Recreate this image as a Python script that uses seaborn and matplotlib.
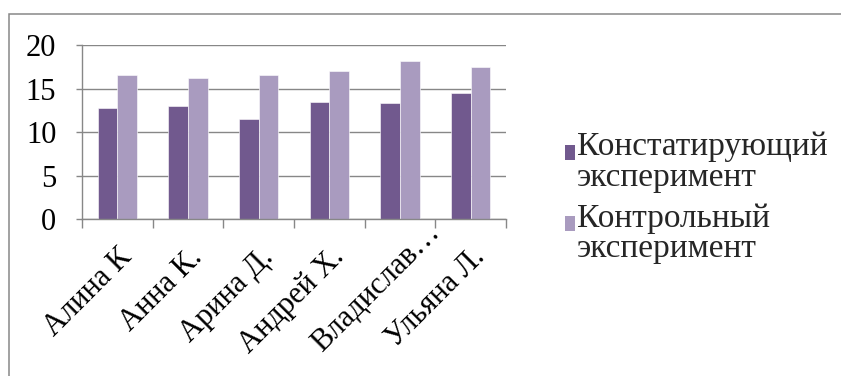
import matplotlib
matplotlib.use("Agg")
import matplotlib.pyplot as plt
from matplotlib.patches import Rectangle, Patch
from matplotlib.legend_handler import HandlerPatch
import matplotlib.transforms as mtransforms
import seaborn as sns
import pandas as pd

# Scores per pupil in the two stages of the experiment
students = ["Алина К", "Анна К.", "Арина Д.", "Андрей Х.", "Владислав…", "Ульяна Л."]
ascertaining = [12.8, 13.0, 11.5, 13.5, 13.3, 14.5]
control = [16.5, 16.2, 16.5, 17.0, 18.2, 17.5]
series_names = ["Констатирующий\nэксперимент", "Контрольный\nэксперимент"]
colors = ["#71598E", "#A99BBF"]
y_ticks = [0, 5, 10, 15, 20]

df = pd.DataFrame({
    "student": students * 2,
    "value": ascertaining + control,
    "series": [series_names[0]] * len(students) + [series_names[1]] * len(students),
})

sns.set_theme(style="white")
plt.rcParams["font.family"] = ["Liberation Serif", "DejaVu Serif"]

grey = "#878787"
fig = plt.figure(figsize=(8.41, 3.76), dpi=100)
ax = fig.add_axes([82 / 841, 1 - 219 / 376, 424 / 841, 174 / 376])

sns.barplot(data=df, x="student", y="value", hue="series", order=students,
            hue_order=series_names, palette=colors, width=0.556, gap=0,
            saturation=1, edgecolor="white", linewidth=0.4, legend=False, ax=ax)

ax.set_xlim(-0.5, len(students) - 0.5)
ax.set_ylim(0, 20)
ax.set_yticks(y_ticks)
ax.set_xlabel("")
ax.set_ylabel("")

# Horizontal gridlines behind the bars
ax.set_axisbelow(True)
ax.yaxis.grid(True, color=grey, linewidth=1.0)
ax.xaxis.grid(False)

for side in ["top", "right"]:
    ax.spines[side].set_visible(False)
for side in ["left", "bottom"]:
    ax.spines[side].set_color(grey)
    ax.spines[side].set_linewidth(1.0)

# Category boundary ticks on the x axis
ax.set_xticks([i - 0.5 for i in range(len(students) + 1)], minor=True)
ax.tick_params(axis="x", which="minor", length=6.5, width=1.0, color=grey, bottom=True)
ax.tick_params(axis="x", which="major", length=0, pad=17, labelsize=22, labelcolor="black")
ax.tick_params(axis="y", length=4.5, width=1.0, color=grey, pad=14, labelsize=22,
               labelcolor="black", left=True)
plt.setp(ax.get_xticklabels(), rotation=45, ha="right", rotation_mode="anchor")

# the truncated long name sits further along its diagonal
for lbl in ax.get_xticklabels():
    if lbl.get_text().endswith("…"):
        lbl.set_transform(lbl.get_transform() +
                          mtransforms.ScaledTranslation(25 / 100, 25 / 100, fig.dpi_scale_trans))


def top_square(legend, orig_handle, xdescent, ydescent, width, height, fontsize):
    # square marker lifted to sit beside the first line of a two-line label
    return Rectangle((-xdescent, -ydescent + 0.3 * fontsize), width, height)


handles = [Patch(facecolor=c, edgecolor="none") for c in colors]
fig.legend(handles, series_names, loc="upper left", bbox_to_anchor=(565 / 841, 1 - 132 / 376),
           frameon=False, fontsize=24, handlelength=0.3, handleheight=0.3,
           handletextpad=0.07, labelspacing=0.3, borderaxespad=0, borderpad=0,
           handler_map={Patch: HandlerPatch(patch_func=top_square)})
for t in fig.legends[0].get_texts():
    t.set_linespacing(1.0)

# Chart area frame
fig.patches.append(Rectangle((8.5 / 841, -0.2), 1.2, 0.2 + (1 - 14.5 / 376),
                             transform=fig.transFigure, fill=False,
                             edgecolor=grey, linewidth=1.1))

fig.savefig("out.png", dpi=100)
